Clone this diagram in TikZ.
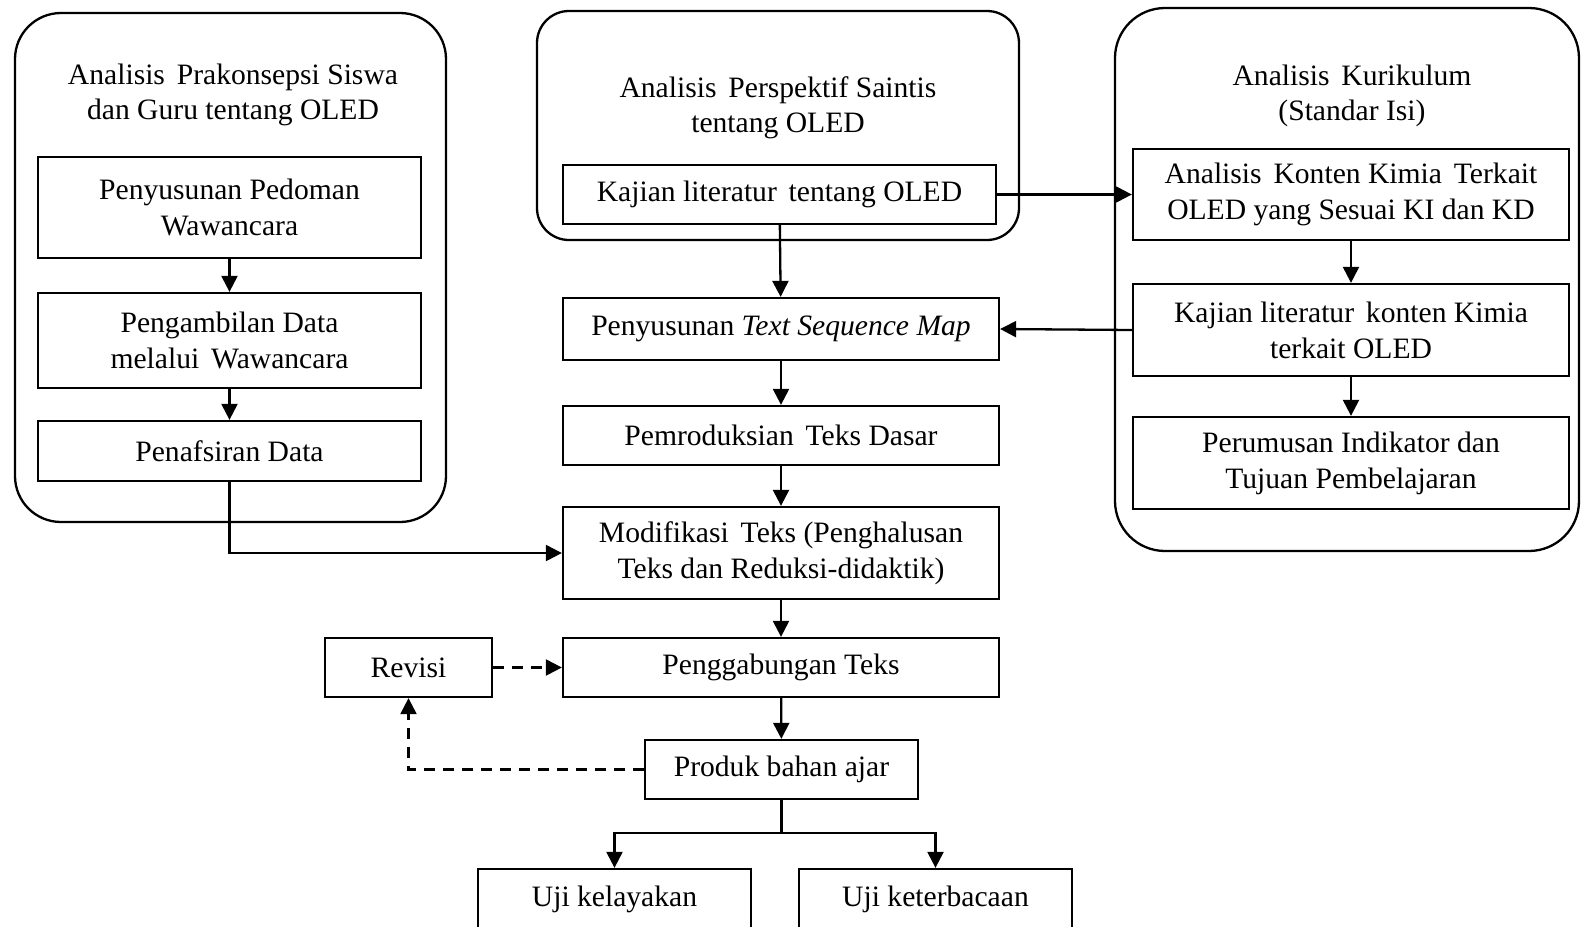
\documentclass[tikz,border=0pt]{standalone}
\usepackage{fontspec}
\setmainfont{Liberation Serif}
\usetikzlibrary{arrows.meta}
\tikzset{
  bx/.style={draw, line width=1.15pt, inner sep=0pt, align=center, font=\fontsize{14.8}{18}\selectfont},
  ttl/.style={inner sep=0pt, align=center, font=\fontsize{14.8}{17.6}\selectfont},
  arr/.style={line width=1.15pt, -{Triangle[length=8pt,width=8pt]}},
  ln/.style={line width=1.15pt},
  dsh/.style={dash pattern=on 5.5pt off 4pt}
}
\newcommand\xs{\hspace{0.15em}}
\newcommand\boxnode[7][]{\node[bx,#1, minimum width={(#4-#2)*0.5pt}, minimum height={(#5-#3)*0.5pt}] (#6) at ({(#2+#4)/2},{(#3+#5)/2}) {#7};}
\begin{document}
\begin{tikzpicture}[x=0.5pt,y=-0.5pt]
\useasboundingbox (0,0) rectangle (1581,927);
% containers
\boxnode[rounded corners=23pt]{15}{13}{446}{522}{contL}{}
\boxnode[rounded corners=16pt]{537}{11}{1019}{240}{contM}{}
\boxnode[rounded corners=25pt]{1115}{8}{1579}{551}{contR}{}
\node[ttl] (ttlL) at (233,95) {Analisis\ \xs Prakonsepsi Siswa\\dan Guru tentang OLED};
\node[ttl] (ttlM) at (778,108) {Analisis\ \xs Perspektif Saintis\\tentang OLED};
\node[ttl] (ttlR) at (1352,96) {Analisis\ \xs Kurikulum\\(Standar Isi)};
% left
\boxnode{38}{157}{421}{258}{pedoman}{Penyusunan Pedoman\\Wawancara}
\boxnode{38}{293}{421}{388}{pengambilan}{Pengambilan Data\\melalui\ \xs Wawancara}
\boxnode{38}{421}{421}{481}{penafsiran}{Penafsiran Data}
% middle
\boxnode{563}{165}{996}{224}{kajian}{Kajian literatur\xs\ tentang OLED}
\boxnode{563}{298}{999}{360}{tsm}{Penyusunan \textit{Text Sequence Map}}
\boxnode{563}{406}{999}{465}{pemroduksian}{Pemroduksian\xs\ Teks Dasar}
\boxnode{563}{507}{999}{599}{modifikasi}{Modifikasi\xs\ Teks (Penghalusan\\Teks dan Reduksi-didaktik)}
\boxnode{563}{638}{999}{697}{penggabungan}{Penggabungan Teks}
\boxnode{325}{638}{492}{697}{revisi}{Revisi}
\boxnode{645}{740}{918}{799}{produk}{Produk bahan ajar}
\boxnode{478}{869}{751}{930}{ujikel}{Uji kelayakan}
\boxnode{799}{869}{1072}{930}{ujiket}{Uji keterbacaan}
% right
\boxnode{1133}{149}{1569}{240}{konten}{Analisis\xs\ Konten Kimia\xs\ Terkait\\OLED yang Sesuai KI dan KD}
\boxnode{1133}{284}{1569}{376}{kajkonten}{Kajian literatur\xs\ konten Kimia\\terkait OLED}
\boxnode{1133}{417}{1569}{509}{perumusan}{Perumusan Indikator dan\\Tujuan Pembelajaran}
% connectors
\draw[arr] (pedoman) -- (pengambilan);
\draw[arr] (pengambilan) -- (penafsiran);
\draw[arr] (penafsiran.south) |- (modifikasi.west);
\draw[arr] (kajian) -- (tsm);
\draw[arr] (kajian.east) -- (konten.west);
\draw[arr] (kajkonten.west) -- (tsm.east);
\draw[arr] (konten) -- (kajkonten);
\draw[arr] (kajkonten) -- (perumusan);
\draw[arr] (tsm) -- (pemroduksian);
\draw[arr] (pemroduksian) -- (modifikasi);
\draw[arr] (modifikasi) -- (penggabungan);
\draw[arr] (penggabungan) -- (produk);
\coordinate (split) at (781.5,833);
\draw[ln] (produk.south) -- (split);
\draw[arr] (split) -| (ujikel.north);
\draw[arr] (split) -| (ujiket.north);
\draw[arr,dsh] (revisi.east) -- (penggabungan.west);
\draw[arr,dsh] (produk.west) -| (revisi.south);
\end{tikzpicture}
\end{document}
